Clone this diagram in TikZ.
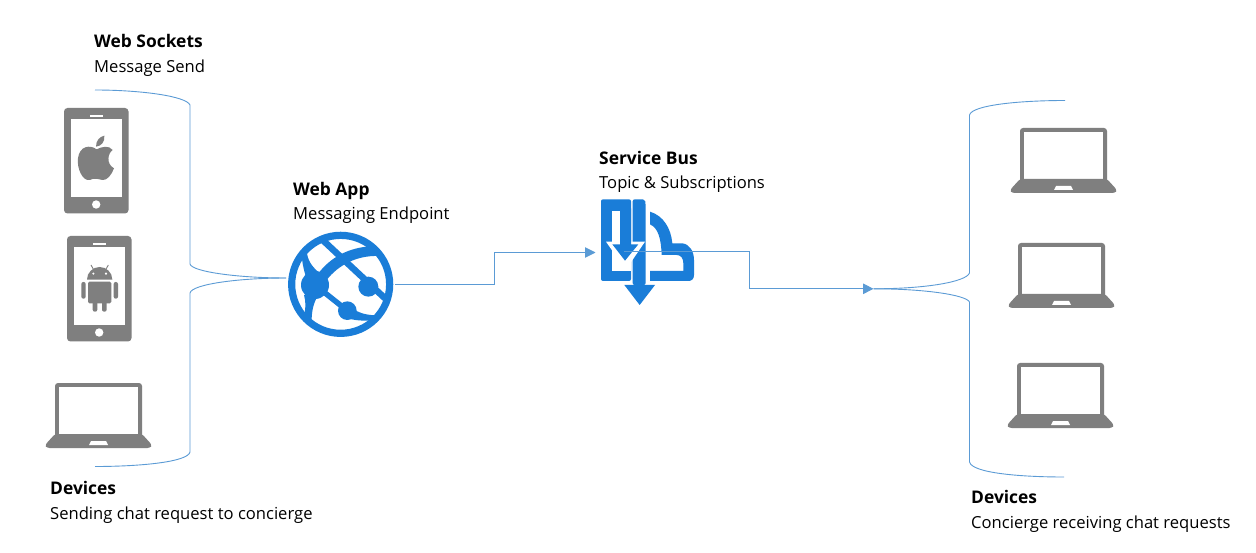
\documentclass[tikz,border=0pt]{standalone}
\usepackage{fontspec}
\setmainfont{Open Sans}
\usetikzlibrary{arrows.meta}
\definecolor{linkblue}{HTML}{5B9BD5}
\definecolor{iconblue}{HTML}{1A7DD8}
\definecolor{icongrey}{HTML}{7F7F7F}
\tikzset{
  link/.style={draw=linkblue,line width=0.9pt},
  linkarrow/.style={link,-{Triangle[length=10.5pt,width=10.5pt,fill=linkblue]}},
  head/.style={anchor=base west,inner sep=0pt,font=\fontsize{17.4}{20}\selectfont\bfseries,text=black},
  sub/.style={anchor=base west,inner sep=0pt,font=\fontsize{16.6}{20}\selectfont,text=black},
  holder/.style={inner sep=0pt,minimum width=#1},
  laptop/.pic={
    \fill[icongrey,rounded corners=3pt] (0,0) rectangle (87,55);
    \fill[white] (4,4) rectangle (83,51);
    \fill[icongrey,rounded corners=2.5pt] (-8,65) -- (95,65) -- (97,62) -- (87,51) -- (0,51) -- (-10,62) -- cycle;
    \fill[white] (36,58) -- (51,58) -- (53,62) -- (34,62) -- cycle;
  },
  phone/.pic={
    \fill[icongrey,rounded corners=3.5pt] (0,0) rectangle (64.5,105.5);
    \fill[white] (7,11.5) rectangle (57.5,89);
    \fill[white] (26,7) rectangle (38.5,9);
    \fill[white] (32.2,96.5) circle (4.2);
  },
}
\begin{document}
\begin{tikzpicture}[x=1pt,y=-1pt]
\useasboundingbox (0,0) rectangle (1256,553);
\fill[white] (0,0) rectangle (1256,553);

% device icons
\pic at (64,108) {phone};
\pic at (67,236) {phone};
\pic at (55,383) {laptop};
\pic at (1020,128) {laptop};
\pic at (1018,243) {laptop};
\pic at (1017,363) {laptop};

\begin{scope}[shift={(40,90)},scale=1/3]
% apple logo
\fill[icongrey] (170,178) .. controls (185,170) and (207,165) .. (218,180)
  .. controls (203,190) and (198,222) .. (222,235)
  .. controls (215,255) and (200,272) .. (188,270)
  .. controls (175,268) and (162,262) .. (150,270)
  .. controls (128,275) and (110,235) .. (114,205)
  .. controls (118,168) and (150,163) .. (170,178) -- cycle;
\fill[icongrey] (168,170) .. controls (168,150) and (180,140) .. (193,137)
  .. controls (195,155) and (185,168) .. (168,170) -- cycle;
% android logo
\fill[icongrey] (141,569) arc[start angle=180,end angle=360,radius=38] -- cycle;
\fill[icongrey,rounded corners=1.5pt] (144,575) rectangle (214,640);
\fill[white] (160,551) circle (3.5) (198,551) circle (3.5);
\fill[icongrey,rounded corners=2pt] (124,576) rectangle (137,626);
\fill[icongrey,rounded corners=2pt] (221,576) rectangle (234,626);
\fill[icongrey,rounded corners=2pt] (158,630) rectangle (172,665);
\fill[icongrey,rounded corners=2pt] (186,630) rectangle (200,665);
\draw[icongrey,line width=0.9pt] (153,525) -- (162,541) (205,525) -- (196,541);
\end{scope}

% web app globe
\begin{scope}[shift={(270,230)},scale=1/3]
\draw[iconblue,line width=7.2pt] (212,163) circle (147);
\fill[iconblue] (135,165) circle (42);
\fill[iconblue] (295,170) circle (30);
\fill[iconblue] (232,242) circle (28);
\draw[iconblue,line width=6.5pt] (160,32) -- (345,205);
\draw[iconblue,line width=5.5pt] (135,165) -- (232,242);
\fill[iconblue] (96,85) -- (110,62) .. controls (112,90) and (125,110) .. (150,130) -- (110,150)
  .. controls (105,130) and (98,110) .. (96,85) -- cycle;
\fill[iconblue] (102,195) -- (142,200) .. controls (128,225) and (124,250) .. (125,285) -- (100,262) .. controls (108,240) and (108,215) .. (102,195) -- cycle;
\fill[iconblue] (145,130) .. controls (190,72) and (250,50) .. (315,48)
  -- (325,78) .. controls (260,76) and (205,105) .. (170,150) -- cycle;
\fill[iconblue] (240,230) .. controls (265,250) and (290,256) .. (325,256)
  -- (315,270) .. controls (285,274) and (250,272) .. (225,262) -- cycle;
\end{scope}

% service bus icon
\begin{scope}[shift={(595,195)},scale=1/3]
\fill[iconblue,rounded corners=2pt] (18,13) rectangle (108,258);
\fill[white] (50,47) rectangle (75,150);
\fill[white] (50,150) rectangle (108,228);
\fill[iconblue,rounded corners=2pt] (113,13) -- (150,13) -- (152,30) -- (152,270) -- (113,270) -- cycle;
\fill[iconblue] (88,270) -- (180,270) -- (134,330) -- cycle;
\fill[white] (33,140) -- (150,140) -- (92,225) -- cycle;
\fill[iconblue] (75,40) -- (108,40) -- (108,148) -- (130,148) -- (90,197) -- (52,148) -- (75,148) -- cycle;
\fill[iconblue] (165,50) .. controls (205,62) and (228,100) .. (232,145)
  -- (262,145) .. controls (285,148) and (297,170) .. (297,195) -- (297,240)
  .. controls (297,252) and (290,258) .. (280,258) -- (165,258) -- (165,228)
  -- (265,228) -- (265,205) .. controls (265,190) and (258,180) .. (245,180)
  -- (200,180) .. controls (198,130) and (190,100) .. (165,88) -- cycle;
\end{scope}

% named anchors for the icons
\node[holder=105pt,minimum height=105pt] (webapp) at (341,284) {};
\node[holder=94pt,minimum height=106pt] (bus) at (648,250) {};
\coordinate (webleft) at (286,278);
\coordinate (webright) at (395,284.5);
\coordinate (busin) at (595.5,252.5);
\coordinate (busout) at (624,251.5);
\coordinate (fan) at (873.5,288.8);
\coordinate (lt) at (95,90);
\coordinate (lb) at (95,466.5);
\coordinate (rt) at (1065,100.5);
\coordinate (rb) at (1064,477);

% connectors
\draw[linkarrow] (webright) -- (494,284.5) -- (494,252.5) -- (busin);
\draw[linkarrow] (busout) -- (749,251.5) -- (749,288.8) -- (fan);

% brackets
\draw[link] (lt) .. controls (140,90) and (186,96) .. (190,105) -- (190,264)
  .. controls (192,272) and (240,278) .. (webleft);
\draw[link] (webleft) .. controls (240,278) and (192,284) .. (190,293) -- (190,452)
  .. controls (188,462) and (140,466.5) .. (lb);
\draw[link] (fan) .. controls (925,288.8) and (966,282) .. (969.5,273) -- (969.5,115)
  .. controls (972,105) and (1020,100.5) .. (rt);
\draw[link] (fan) .. controls (925,288.8) and (966,295) .. (969.5,302) -- (969.5,462)
  .. controls (972,473) and (1020,477) .. (rb);

% labels
\node[head] (t1) at (94,47.8) {Web Sockets};
\node[sub] (t2) at (94,72.8) {Message Send};
\node[head] (t3) at (293,195.8) {Web App};
\node[sub] (t4) at (293,219.8) {Messaging Endpoint};
\node[head] (t5) at (599,164.8) {Service Bus};
\node[sub] (t6) at (599,188.8) {Topic \& Subscriptions};
\node[head] (t7) at (50,494.8) {Devices};
\node[sub] (t8) at (50,519.8) {Sending chat request to concierge};
\node[head] (t9) at (971,503.8) {Devices};
\node[sub] (t10) at (971,528.8) {Concierge receiving chat requests};
\end{tikzpicture}
\end{document}
